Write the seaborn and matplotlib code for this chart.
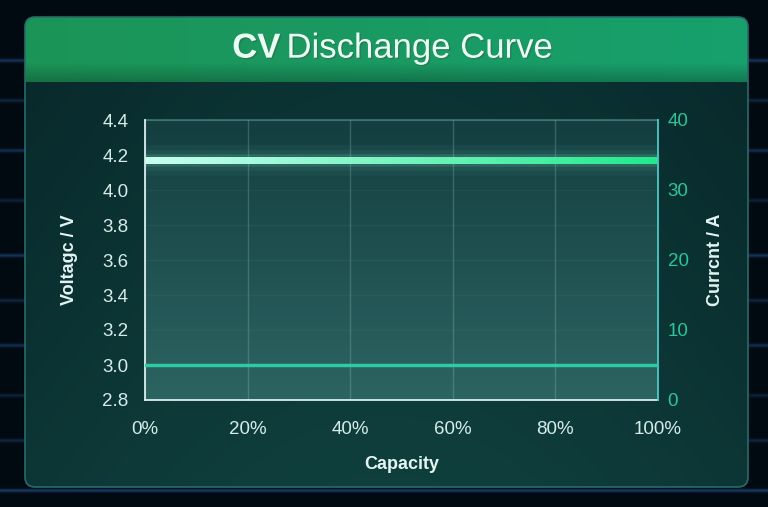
import numpy as np
import pandas as pd
import matplotlib
matplotlib.use("Agg")
import matplotlib.pyplot as plt
import seaborn as sns
from matplotlib.patches import FancyBboxPatch
from matplotlib.collections import LineCollection
from matplotlib.colors import LinearSegmentedColormap
from matplotlib.ticker import PercentFormatter, FormatStrFormatter
import matplotlib.patheffects as pe

# data
capacity = [0, 10, 20, 30, 40, 50, 60, 70, 80, 90, 100]
voltage = [4.17, 4.17, 4.17, 4.17, 4.17, 4.17, 4.17, 4.17, 4.17, 4.17, 4.17]
current = [5, 5, 5, 5, 5, 5, 5, 5, 5, 5, 5]
volt_ticks = [2.8, 3.0, 3.2, 3.4, 3.6, 3.8, 4.0, 4.2, 4.4]
curr_ticks = [0, 10, 20, 30, 40]
x_ticks = [0, 20, 40, 60, 80, 100]

sns.set_theme(style="dark")
plt.rcParams["font.family"] = ["Liberation Sans", "DejaVu Sans"]

W, H = 768, 507
fig = plt.figure(figsize=(W / 100, H / 100), dpi=100)

# background with blue streaks
bg_ax = fig.add_axes([0, 0, 1, 1])
bg = np.zeros((H, W, 3))
bg[:] = np.array([0.01, 0.04, 0.07])
for row, amp in [(60, 0.45), (100, 0.3), (150, 0.4), (200, 0.25), (255, 0.45),
                 (300, 0.3), (345, 0.4), (395, 0.25), (440, 0.3), (490, 0.5)]:
    for d in range(-3, 4):
        r = row + d
        if 0 <= r < H:
            bg[r] += amp * np.exp(-d * d / 3.0) * np.array([0.15, 0.35, 0.6])
bg = np.clip(bg, 0, 1)
bg_ax.imshow(bg, extent=[0, W, H, 0], aspect="auto", zorder=0)

# card body + green header
card = np.zeros((H, W, 3))
yy, xx = np.mgrid[0:H, 0:W]
fx = xx / W
fy = yy / H
body_a = np.array([0.03, 0.15, 0.16])
body_b = np.array([0.06, 0.25, 0.24])
t = np.clip(0.6 * fy + 0.4 * np.sin(np.pi * fx), 0, 1)[..., None]
card[:] = body_a * (1 - t) + body_b * t
head_l = np.array([0.11, 0.58, 0.34])
head_r = np.array([0.09, 0.63, 0.43])
hdr = yy < 82
hcol = head_l * (1 - fx[..., None]) + head_r * fx[..., None]
hcol = hcol * (1 - 0.25 * np.clip((yy - 62) / 20, 0, 1))[..., None]
card[hdr] = hcol[hdr]
im = bg_ax.imshow(card, extent=[0, W, H, 0], aspect="auto", zorder=1)
box = FancyBboxPatch((25, 17), 723, 470, boxstyle="round,pad=0,rounding_size=10",
                     transform=bg_ax.transData, facecolor="none",
                     edgecolor="#2a6a6a", lw=1.2, zorder=2)
bg_ax.add_patch(box)
im.set_clip_path(box)
bg_ax.set_xlim(0, W)
bg_ax.set_ylim(H, 0)
bg_ax.axis("off")

shadow = [pe.withSimplePatchShadow(offset=(1, -1), alpha=0.4)]
fig.text(0.365, 0.905, "CV", ha="right", va="center", fontsize=25, fontweight="bold",
         color="#eafff4", path_effects=shadow)
fig.text(0.373, 0.905, "Dischange Curve", ha="left", va="center", fontsize=25,
         color="#eafff4", path_effects=shadow)

# main plot
ax = fig.add_axes([145 / W, 1 - 400 / H, 513 / W, 280 / H])
grad = np.linspace(0, 1, 100)[:, None] * np.ones((1, 100))
plot_cmap = LinearSegmentedColormap.from_list("pa", ["#2c6462", "#143e40"])
ax.imshow(grad, extent=[0, 1, 0, 1], transform=ax.transAxes, aspect="auto",
          cmap=plot_cmap, origin="lower", zorder=0)

df = pd.DataFrame({"capacity": capacity, "voltage": voltage, "current": current})
sns.lineplot(data=df, x="capacity", y="voltage", ax=ax, color="#7ff8d0", lw=5, zorder=3)
v_line = ax.lines[-1]
# soft glow around the voltage line
v_line.set_path_effects([pe.Stroke(linewidth=22, foreground="#7ff8d0", alpha=0.04),
                         pe.Stroke(linewidth=15, foreground="#7ff8d0", alpha=0.06),
                         pe.Stroke(linewidth=9, foreground="#9ffbe0", alpha=0.12)])
v_line.set_color("none")
xy = v_line.get_xydata()
# colour gradient along the line: split each segment finely for smooth shading
segs = []
for i in range(len(xy) - 1):
    xs = np.linspace(xy[i, 0], xy[i + 1, 0], 9)
    ys = np.linspace(xy[i, 1], xy[i + 1, 1], 9)
    for j in range(8):
        segs.append([(xs[j], ys[j]), (xs[j + 1], ys[j + 1])])
line_cmap = LinearSegmentedColormap.from_list("vl", ["#c9fff1", "#22ea8c"])
lc = LineCollection(segs, colors=line_cmap(np.linspace(0, 1, len(segs))), lw=5,
                    capstyle="projecting", zorder=4)
ax.add_collection(lc)

ax.set_xlim(0, 100)
ax.set_ylim(2.8, 4.4)
ax.set_yticks(volt_ticks)
ax.set_xticks(x_ticks)
ax.xaxis.set_major_formatter(PercentFormatter(decimals=0))
ax.yaxis.set_major_formatter(FormatStrFormatter("%.1f"))
ax.grid(axis="x", color="#9fd0cc", alpha=0.25, lw=1)
ax.grid(axis="y", color="#9fd0cc", alpha=0.05, lw=1)
ax.tick_params(axis="both", length=0, labelsize=13.5, labelcolor="#d6eceb")
ax.tick_params(axis="y", pad=12)
ax.tick_params(axis="x", pad=15)
ax.set_xlabel("Capacity", fontsize=13, fontweight="bold", color="#e4f4f2", labelpad=13)
ax.set_ylabel("Voltagc / V", fontsize=13, fontweight="bold", color="#e4f4f2", labelpad=17)
for s in ["left", "bottom"]:
    ax.spines[s].set_visible(True)
    ax.spines[s].set_color("#d8eeee")
    ax.spines[s].set_linewidth(1.3)
    ax.spines[s].set_zorder(5)
ax.spines["top"].set_color("#5f9c98")
ax.spines["top"].set_alpha(0.6)
ax.spines["right"].set_visible(False)

ax2 = ax.twinx()
sns.lineplot(data=df, x="capacity", y="current", ax=ax2, color="#2ecba2", lw=2.5, zorder=4)
ax2.set_ylim(0, 40)
ax2.set_yticks(curr_ticks)
ax2.tick_params(axis="y", length=0, labelsize=13.5, labelcolor="#2ec49c", pad=7)
ax2.set_ylabel("Currcnt / A", fontsize=13, fontweight="bold", color="#e4f4f2", labelpad=13)
ax2.grid(False)
ax2.spines["right"].set_visible(True)
ax2.spines["right"].set_color("#4cc8c4")
ax2.spines["right"].set_linewidth(1.3)
for s in ["left", "bottom", "top"]:
    ax2.spines[s].set_visible(False)
ax2.patch.set_alpha(0)

fig.savefig("out.png", dpi=100)
